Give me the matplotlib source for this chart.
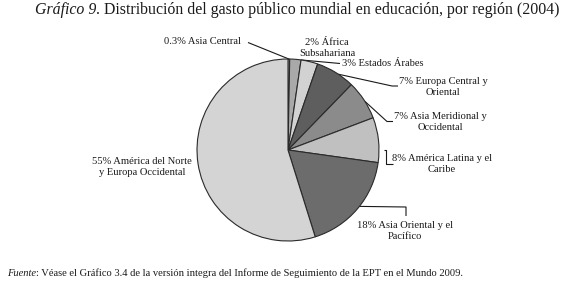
import numpy as np
import matplotlib
matplotlib.use("Agg")
import matplotlib.pyplot as plt

# data (share of world public education spending, 2004)
regions = [
    "Asia Central",
    "África\nSubsahariana",
    "Estados Árabes",
    "Europa Central y\nOriental",
    "Asia Meridional y\nOccidental",
    "América Latina y el\nCaribe",
    "Asia Oriental y el\nPacífico",
    "América del Norte\ny Europa Occidental",
]
shares = [0.3, 2, 3, 7, 7, 8, 18, 55]
share_labels = ["0.3%", "2%", "3%", "7%", "7%", "8%", "18%", "55%"]
colors = ["#e6e6e6", "#a9a9a9", "#d2d2d2", "#5e5e5e",
          "#8b8b8b", "#c0c0c0", "#6c6c6c", "#d4d4d4"]

title_italic = "Gráfico 9."
title_rest = " Distribución del gasto público mundial en educación, por región (2004)"
source_italic = "Fuente"
source_rest = (": Véase el Gráfico 3.4 de la versión integra del Informe de "
               "Seguimiento de la EPT en el Mundo 2009.")

W, H = 564, 289
plt.rcParams["font.family"] = ["Liberation Serif", "DejaVu Serif"]

fig = plt.figure(figsize=(W / 100, H / 100), dpi=100)
ax = fig.add_axes([0, 0, 1, 1])
ax.set_xlim(0, W)
ax.set_ylim(H, 0)
ax.axis("off")

cx, cy, r = 288, 150, 91
ax_pie = fig.add_axes([(cx - r) / W, 1 - (cy + r) / H, 2 * r / W, 2 * r / H])
ax_pie.pie(shares, colors=colors, startangle=90, counterclock=False, radius=1,
           wedgeprops=dict(edgecolor="#2a2a2a", linewidth=0.8))
ax_pie.set_xlim(-1, 1)
ax_pie.set_ylim(-1, 1)
ax_pie.axis("off")

# wedge angles (clockwise from top, degrees)
frac = np.array(shares) / sum(shares)
ends = np.cumsum(frac) * 360
starts = ends - frac * 360
mids = (starts + ends) / 2


def edge(angle, rad=1.0):
    a = np.deg2rad(angle)
    return cx + r * rad * np.sin(a), cy - r * rad * np.cos(a)


# label layout: (text position, alignment, leader elbows, anchor angle)
layout = [
    ((241, 42), "right", [(248, 42.5)], mids[0]),
    ((327, 48), "center", None, None),
    ((342, 63.5), "left", [(340, 63.5)], starts[2]),
    ((443, 87), "center", [(392, 86), (398, 86)], mids[3] + 2),
    ((440, 122), "center", [(387, 121.5), (393, 121.5)], mids[4] + 1),
    ((442, 164), "center", [(386, 150), (386, 164), (393, 164)], 90),
    ((405, 231), "center", [(406, 207), (406, 216)], mids[6] - 2),
    ((142, 167), "center", None, None),
]

for reg, pct, (pos, ha, elbows, ang) in zip(regions, share_labels, layout):
    ax.text(pos[0], pos[1], f"{pct} {reg}", ha=ha, va="center",
            fontsize=7.6, color="#1a1a1a", linespacing=1.25)
    if elbows:
        x0, y0 = edge(ang, 1.0 if ang != 90 else 1.05)
        pts = [(x0, y0)] + elbows
        xs, ys = zip(*pts)
        ax.plot(xs, ys, color="#1a1a1a", lw=0.8, solid_capstyle="butt")

t1 = ax.text(35, 10, title_italic, ha="left", va="center", fontsize=11.4,
             style="italic", color="#1a1a1a")
ax.annotate(title_rest, xy=(1, 0.5), xycoords=t1, va="center", ha="left",
            fontsize=11.4, color="#1a1a1a")

s1 = ax.text(7, 273, source_italic, ha="left", va="center", fontsize=7.6,
             style="italic", color="#1a1a1a")
ax.annotate(source_rest, xy=(1, 0.5), xycoords=s1, va="center", ha="left",
            fontsize=7.6, color="#1a1a1a")

fig.savefig("out.png", dpi=100)
